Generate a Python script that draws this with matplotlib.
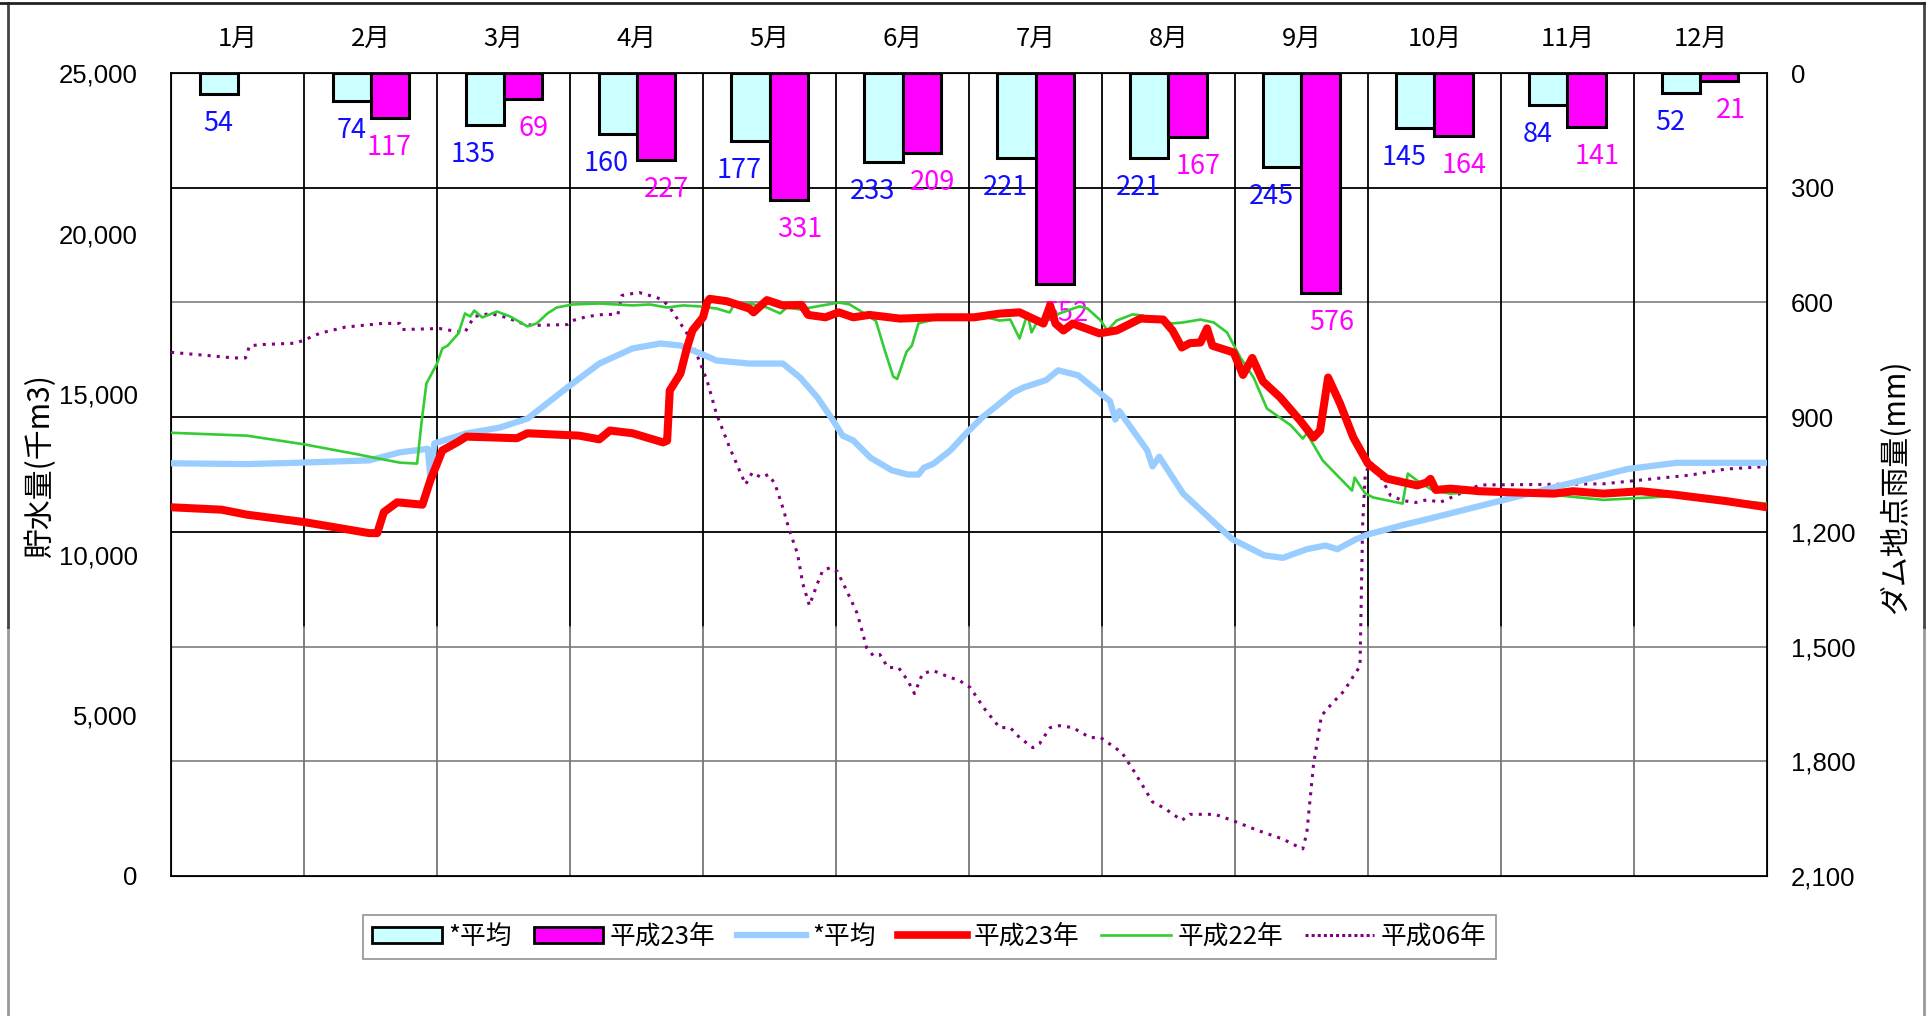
import numpy as np
import matplotlib.pyplot as plt
from matplotlib.patches import Patch
from matplotlib.lines import Line2D

plt.rcParams['font.family'] = ['Noto Sans CJK JP', 'DejaVu Sans']

# monthly rainfall at the dam (mm)
months = ['1月', '2月', '3月', '4月', '5月', '6月', '7月', '8月', '9月', '10月', '11月', '12月']
rain_avg = [54, 74, 135, 160, 177, 233, 221, 221, 245, 145, 84, 52]
rain_h23 = [np.nan, 117, 69, 227, 331, 209, 552, 167, 576, 164, 141, 21]

# storage (thousand m3), x given in months from Jan 1
store_avg = [(0, 12850), (0.57, 12825), (0.94, 12865), (1.49, 12940), (1.72, 13190), (1.93, 13300),
             (1.95, 12410), (1.98, 13470), (2.22, 13780), (2.47, 13960), (2.68, 14240), (2.98, 15210),
             (3.22, 15955), (3.47, 16425), (3.68, 16580), (3.83, 16515), (3.98, 16270), (4.10, 16050),
             (4.35, 15955), (4.60, 15955), (4.73, 15520), (4.86, 14900), (4.98, 14170), (5.05, 13710),
             (5.13, 13560), (5.26, 13020), (5.42, 12630), (5.54, 12500), (5.62, 12500), (5.66, 12710),
             (5.73, 12830), (5.86, 13250), (5.98, 13790), (6.10, 14280), (6.23, 14710), (6.33, 15050),
             (6.41, 15210), (6.58, 15440), (6.67, 15745), (6.82, 15590), (7.06, 14785), (7.10, 14210),
             (7.13, 14475), (7.34, 13250), (7.38, 12750), (7.43, 13055), (7.61, 11905), (7.71, 11520),
             (7.98, 10485), (8.22, 9985), (8.36, 9905), (8.54, 10175), (8.68, 10290), (8.77, 10175),
             (8.91, 10485), (9.0, 10635), (9.28, 10945), (9.47, 11135), (9.84, 11520), (10.21, 11905),
             (10.58, 12290), (10.95, 12670), (11.32, 12865), (11.69, 12865), (12.0, 12865)]

store_h23 = [(0, 11480), (0.38, 11405), (0.57, 11250), (1.0, 11020), (1.49, 10675), (1.55, 10675),
             (1.60, 11330), (1.70, 11635), (1.89, 11560), (1.95, 12325), (2.04, 13250), (2.15, 13500),
             (2.22, 13680), (2.6, 13630), (2.68, 13785), (3.07, 13710), (3.22, 13595), (3.30, 13870),
             (3.47, 13785), (3.70, 13500), (3.73, 13555), (3.75, 15115), (3.83, 15645), (3.88, 16455),
             (3.92, 16985), (4.0, 17395), (4.03, 17855), (4.05, 17970), (4.18, 17895), (4.35, 17665),
             (4.38, 17550), (4.48, 17930), (4.60, 17765), (4.74, 17780), (4.79, 17470), (4.92, 17395),
             (5.02, 17550), (5.13, 17395), (5.25, 17470), (5.48, 17355), (5.76, 17395), (6.04, 17395),
             (6.23, 17510), (6.38, 17550), (6.56, 17200), (6.61, 17765), (6.65, 17200), (6.71, 16985),
             (6.78, 17200), (6.98, 16895), (7.11, 16985), (7.29, 17355), (7.46, 17325), (7.53, 16985),
             (7.60, 16455), (7.66, 16590), (7.74, 16610), (7.79, 17050), (7.83, 16510), (7.99, 16300),
             (8.06, 15600), (8.13, 16130), (8.21, 15400), (8.34, 14900), (8.49, 14180), (8.59, 13650),
             (8.64, 13870), (8.70, 15520), (8.79, 14710), (8.89, 13650), (9.0, 12840), (9.14, 12375),
             (9.37, 12160), (9.44, 12250), (9.47, 12365), (9.51, 12020), (9.62, 12060), (9.84, 11980),
             (10.12, 11940), (10.40, 11905), (10.54, 11980), (10.77, 11905), (11.05, 11980),
             (11.32, 11865), (11.69, 11675), (12.0, 11480)]

store_h22 = [(0, 13800), (0.57, 13710), (1.0, 13440), (1.40, 13130), (1.49, 13055), (1.72, 12870),
             (1.85, 12840), (1.885, 14180), (1.92, 15335), (2.0, 15955), (2.04, 16425), (2.08, 16515),
             (2.16, 16890), (2.21, 17515), (2.25, 17420), (2.28, 17605), (2.34, 17390), (2.45, 17575),
             (2.55, 17420), (2.68, 17110), (2.75, 17205), (2.83, 17515), (2.90, 17700), (3.02, 17795),
             (3.22, 17825), (3.47, 17765), (3.60, 17795), (3.73, 17700), (3.85, 17765), (3.97, 17735),
             (4.10, 17670), (4.20, 17545), (4.23, 17765), (4.35, 17825), (4.48, 17700), (4.58, 17515),
             (4.63, 17700), (4.73, 17640), (5.02, 17855), (5.10, 17800), (5.2, 17550), (5.3, 17280),
             (5.37, 16320), (5.43, 15550), (5.46, 15475), (5.53, 16320), (5.57, 16510), (5.62, 17205),
             (5.76, 17355), (5.94, 17470), (6.13, 17395), (6.23, 17295), (6.31, 17325), (6.38, 16735),
             (6.44, 17515), (6.47, 16925), (6.51, 17235), (6.61, 17355), (6.68, 17515), (6.83, 17735),
             (6.89, 17670), (6.99, 17295), (7.04, 16985), (7.11, 17295), (7.23, 17485), (7.31, 17450),
             (7.34, 17325), (7.44, 17265), (7.53, 17205), (7.61, 17235), (7.74, 17325), (7.84, 17235),
             (7.94, 16925), (8.04, 16145), (8.14, 15520), (8.24, 14555), (8.42, 14030), (8.51, 13620),
             (8.54, 13780), (8.66, 12935), (8.88, 12000), (8.90, 12405), (8.98, 11905), (9.04, 11785),
             (9.26, 11595), (9.30, 12530), (9.37, 12310), (9.49, 12000), (9.62, 11905), (9.84, 11980),
             (10.3, 11905), (10.77, 11710), (11.32, 11830), (11.69, 11710), (12.0, 11595)]

store_h06 = [(0, 16305), (0.29, 16200), (0.47, 16130), (0.56, 16130), (0.59, 16510), (0.70, 16550),
             (0.94, 16590), (1.03, 16740), (1.12, 16900), (1.31, 17090), (1.59, 17205), (1.72, 17205),
             (1.74, 17015), (2.02, 17045), (2.15, 16955), (2.21, 16925), (2.23, 17080), (2.28, 17420),
             (2.40, 17515), (2.52, 17390), (2.64, 17205), (2.72, 17140), (2.98, 17170), (3.02, 17295),
             (3.13, 17420), (3.25, 17485), (3.36, 17485), (3.39, 18075), (3.47, 18135), (3.52, 18165),
             (3.65, 18015), (3.70, 17920), (3.75, 17700), (3.80, 17390), (3.88, 16890), (3.95, 16270),
             (4.03, 15430), (4.10, 14400), (4.20, 13340), (4.32, 12190), (4.37, 12560), (4.44, 12405),
             (4.49, 12500), (4.54, 12220), (4.60, 11470), (4.65, 10755), (4.71, 10040), (4.75, 9105),
             (4.80, 8420), (4.86, 9105), (4.90, 9510), (4.96, 9605), (5.01, 9480), (5.08, 8885),
             (5.16, 8170), (5.23, 7110), (5.28, 6860), (5.33, 6895), (5.39, 6490), (5.47, 6490),
             (5.54, 6080), (5.59, 5680), (5.65, 6300), (5.73, 6395), (5.84, 6210), (5.93, 6080),
             (6.01, 5865), (6.11, 5240), (6.23, 4620), (6.31, 4620), (6.38, 4310), (6.48, 3995),
             (6.53, 4120), (6.61, 4620), (6.68, 4680), (6.78, 4620), (6.91, 4310), (6.99, 4310),
             (7.15, 3840), (7.24, 3265), (7.38, 2305), (7.47, 2110), (7.60, 1730), (7.66, 1920),
             (7.85, 1920), (7.98, 1730), (8.17, 1420), (8.36, 1150), (8.45, 960), (8.51, 845),
             (8.54, 1345), (8.59, 3455), (8.65, 4990), (8.73, 5375), (8.82, 5760), (8.89, 6220),
             (8.94, 6530), (8.96, 10975), (8.98, 12530), (9.02, 12870), (9.07, 12720), (9.11, 12310),
             (9.17, 11845), (9.26, 11690), (9.36, 11630), (9.45, 11720), (9.54, 11630), (9.84, 12175),
             (10.3, 12190), (10.77, 12210), (11.14, 12365), (11.42, 12480), (11.69, 12670), (12.0, 12750)]

fig = plt.figure(figsize=(19.33, 10.16), dpi=100)
ax = fig.add_axes([0.0885, 0.1378, 0.8256, 0.7903])
ax2 = ax.twinx()
ax.set_zorder(ax2.get_zorder() + 1)
ax.patch.set_visible(False)

# rainfall bars (right axis, inverted)
bw = 0.286
xc = np.arange(12) + 0.5
ax2.bar(xc, rain_avg, width=-bw, align='edge', color='#CCFFFF', edgecolor='black', linewidth=2.2, zorder=3)
ax2.bar(xc, rain_h23, width=bw, align='edge', color='#FF00FF', edgecolor='black', linewidth=2.2, zorder=3)
for i in range(12):
    dx = 0 if i < 2 else 11  # labels pushed apart where they sit side by side
    ax2.annotate(f'{rain_avg[i]}', (xc[i] - bw / 2, rain_avg[i]), xytext=(-dx, -16),
                 textcoords='offset pixels', ha='center', va='top', color='#1010FF', fontsize=19.5, zorder=2)
    if not np.isnan(rain_h23[i]):
        ax2.annotate(f'{int(rain_h23[i])}', (xc[i] + bw / 2, rain_h23[i]), xytext=(dx, -16),
                     textcoords='offset pixels', ha='center', va='top', color='#FF00FF', fontsize=19.5, zorder=2)

ax2.set_ylim(2100, 0)
ax2.set_xlim(0, 12)
ax2.set_yticks(range(0, 2101, 300))
ax2.set_yticklabels([f'{v:,}' for v in range(0, 2101, 300)], family='Liberation Sans', fontsize=18.5)
ax2.tick_params(axis='y', length=0, pad=17)

for v in range(300, 2100, 300):
    ax2.axhline(v, color='#888888' if v in (600, 1500, 1800) else 'black', lw=1.3, zorder=1)
for m in range(1, 12):
    ax2.axvline(m, ymin=0.31, ymax=1, color='black', lw=1.3, zorder=1)
    ax2.axvline(m, ymin=0, ymax=0.31, color='#777777', lw=1.3, zorder=1)

# storage lines (left axis)
ax.plot(*zip(*store_h06), color='#800080', lw=2.2, linestyle=(0, (1, 2.0)), zorder=3)
ax.plot(*zip(*store_avg), color='#99CCFF', lw=4.5, solid_capstyle='round', zorder=4)
ax.plot(*zip(*store_h22), color='#33CC33', lw=1.9, zorder=5)
ax.plot(*zip(*store_h23), color='#FF0000', lw=5.8, solid_capstyle='round', solid_joinstyle='round', zorder=6)

ax.set_xlim(0, 12)
ax.set_ylim(0, 25000)
ax.set_yticks(range(0, 25001, 5000))
ax.set_yticklabels([f'{v:,}' for v in range(0, 25001, 5000)], family='Liberation Sans', fontsize=18.5)
ax.tick_params(axis='y', length=0, pad=24)
ax.set_xticks([])
for s in ax.spines.values():
    s.set_color('black')
    s.set_linewidth(1.3)

for i, m in enumerate(months):
    ax.text(i + 0.5, 1.042, m, transform=ax.get_xaxis_transform(), ha='center', va='center', fontsize=18.5)

fig.text(40 / 1933, 1 - 466 / 1016, '貯水量(千m3)', rotation=90, ha='center', va='center', fontsize=21.5)
fig.text(1896 / 1933, 1 - 487 / 1016, 'ダム地点雨量(mm)', rotation=90, ha='center', va='center', fontsize=21.5)

handles = [Patch(facecolor='#CCFFFF', edgecolor='black', linewidth=2),
           Patch(facecolor='#FF00FF', edgecolor='black', linewidth=2),
           Line2D([], [], color='#99CCFF', lw=4.5),
           Line2D([], [], color='#FF0000', lw=5.5),
           Line2D([], [], color='#33CC33', lw=1.9),
           Line2D([], [], color='#800080', lw=2.2, linestyle=(0, (1, 1)))]
labels = ['*平均', '平成23年', '*平均', '平成23年', '平成22年', '平成06年']
leg = fig.legend(handles, labels, loc='center', bbox_to_anchor=(929.5 / 1933, 1 - 937 / 1016), ncol=6,
                 fontsize=18.5, frameon=True, fancybox=False, edgecolor='#777777', handlelength=2.7,
                 handleheight=0.6, handletextpad=0.25, columnspacing=0.85, borderpad=0.35)
leg.get_frame().set_linewidth(1.2)

# outer frame
fig.add_artist(Line2D([8 / 1933, 8 / 1933], [0, 1 - 627 / 1016], transform=fig.transFigure, color='#999999', lw=2))
fig.add_artist(Line2D([8 / 1933, 8 / 1933], [1 - 627 / 1016, 1 - 3 / 1016], transform=fig.transFigure, color='#444444', lw=2))
fig.add_artist(Line2D([1924 / 1933, 1924 / 1933], [0, 1 - 627 / 1016], transform=fig.transFigure, color='#999999', lw=2))
fig.add_artist(Line2D([1924 / 1933, 1924 / 1933], [1 - 627 / 1016, 1 - 3 / 1016], transform=fig.transFigure, color='#444444', lw=2))
fig.add_artist(Line2D([0, 1924 / 1933], [1 - 3 / 1016, 1 - 3 / 1016], transform=fig.transFigure, color='#222222', lw=2))

fig.savefig('out.png', dpi=100)
